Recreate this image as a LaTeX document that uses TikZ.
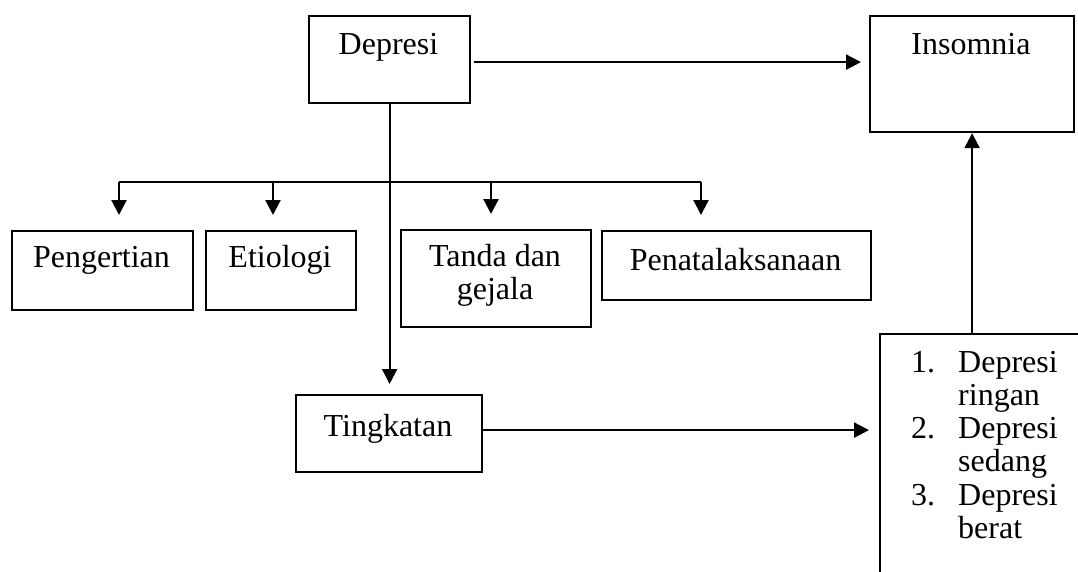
\documentclass[tikz,border=0pt]{standalone}
\usepackage{fontspec}
\setmainfont{Liberation Serif}
\usetikzlibrary{arrows.meta}
\begin{document}
\begin{tikzpicture}[x=1pt,y=-1pt,
  box/.style={draw, line width=2.2pt, inner sep=0pt, anchor=north west},
  txt/.style={inner sep=0pt, anchor=base, font=\fontsize{32}{36}\selectfont},
  ltxt/.style={txt, anchor=base west},
  ln/.style={line width=2.2pt},
  arr/.style={ln, -{Triangle[length=15pt,width=15pt]}}]
\clip (0,0) rectangle (1078,572);
\fill[white] (0,0) rectangle (1078,572);
% boxes
\node[box, minimum width=161, minimum height=87] (D) at (308,15) {};
\node[box, minimum width=204, minimum height=116] (I) at (869,15) {};
\node[box, minimum width=181, minimum height=79] (P) at (11,230) {};
\node[box, minimum width=150, minimum height=79] (E) at (205,230) {};
\node[box, minimum width=190, minimum height=97] (G) at (400,229) {};
\node[box, minimum width=269, minimum height=69] (L) at (601,230) {};
\node[box, minimum width=186, minimum height=77] (T) at (295,394) {};
\node[box, minimum width=300, minimum height=300] (R) at (879,333) {};
% texts
\node[txt] (tD) at (388.5,55) {Depresi};
\node[txt] (tI) at (971,55) {Insomnia};
\node[txt] (tP) at (101.5,267) {Pengertian};
\node[txt] (tE) at (280,267) {Etiologi};
\node[txt] (tG1) at (495,266) {Tanda dan};
\node[txt] (tG2) at (495,299) {gejala};
\node[txt] (tL) at (735.5,270) {Penatalaksanaan};
\node[txt] (tT) at (388,436) {Tingkatan};
\foreach \n/\b [count=\i] in {1./ringan, 2./sedang, 3./berat}{
  \node[ltxt] (num\i) at (911,{372+(\i-1)*66.6}) {\n};
  \node[ltxt] (fa\i) at (958,{372+(\i-1)*66.6}) {Depresi};
  \node[ltxt] (fb\i) at (958,{405.3+(\i-1)*66.6}) {\b};
}
% bus coordinates
\coordinate (b1) at (119,182);
\coordinate (b2) at (273,182);
\coordinate (b3) at (491,182);
\coordinate (b4) at (701,182);
% connectors
\draw[arr, shorten <=3pt, shorten >=8pt] ([yshift=-2.5pt]D.east) -- ([yshift=-2.5pt]D.east -| I.west);
\draw[arr, shorten >=10pt] (D.south) -- (D.south |- T.north);
\draw[ln] (b1) -- (b4);
\draw[arr, shorten >=15pt] (b1) -- (b1 |- P.north);
\draw[arr, shorten >=15pt] (b2) -- (b2 |- E.north);
\draw[arr, shorten >=15pt] (b3) -- (b3 |- G.north);
\draw[arr, shorten >=15pt] (b4) -- (b4 |- L.north);
\draw[arr, shorten >=10pt] ([yshift=3.5pt]T.east) -- ([yshift=3.5pt]T.east -| R.west);
\draw[arr] (I.south |- R.north) -- (I.south);
\end{tikzpicture}
\end{document}
